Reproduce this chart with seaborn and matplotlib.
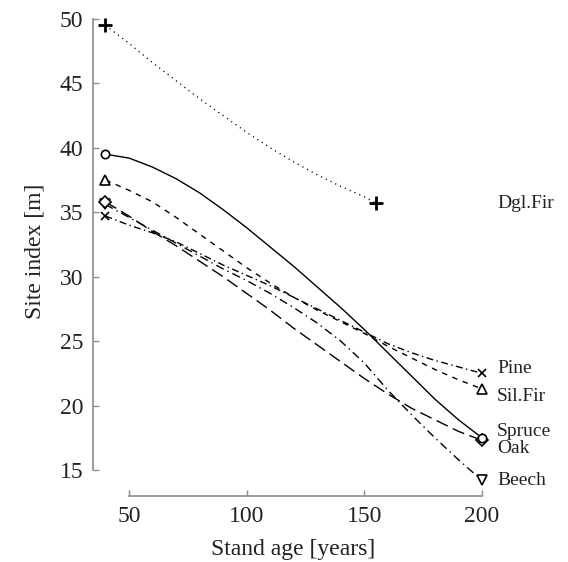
import pandas as pd
import seaborn as sns
import matplotlib.pyplot as plt

# -----------------------------
# Data
# -----------------------------
ages = [40, 50, 60, 70, 80, 90, 100, 110, 120, 130, 140, 150, 160, 170, 180, 190, 200]
ages_dgl = [40, 50, 60, 70, 80, 90, 100, 110, 120, 130, 140, 150, 155]

dgl_fir = [49.5, 48.1, 46.6, 45.2, 43.8, 42.5, 41.2, 40.0, 38.9, 37.9, 37.0, 36.2, 35.7]
spruce = [39.5, 39.2, 38.5, 37.6, 36.5, 35.2, 33.8, 32.3, 30.8, 29.2, 27.6, 25.9, 24.1, 22.3, 20.5, 18.9, 17.5]
sil_fir = [37.5, 36.7, 35.8, 34.6, 33.3, 32.0, 30.7, 29.5, 28.4, 27.4, 26.5, 25.6, 24.6, 23.7, 22.8, 22.0, 21.3]
pine = [34.7, 34.0, 33.4, 32.7, 31.8, 30.9, 30.1, 29.3, 28.4, 27.5, 26.6, 25.7, 24.8, 24.1, 23.5, 23.0, 22.5]
oak = [35.8, 34.7, 33.5, 32.4, 31.2, 30.0, 28.7, 27.4, 26.0, 24.7, 23.4, 22.1, 20.9, 19.8, 18.9, 18.0, 17.3]
beech = [35.6, 34.6, 33.6, 32.6, 31.6, 30.6, 29.7, 28.7, 27.6, 26.4, 25.0, 23.3, 21.2, 19.3, 17.5, 15.8, 14.2]

species = ['Dgl.Fir', 'Spruce', 'Sil.Fir', 'Pine', 'Oak', 'Beech']
label_y = {'Dgl.Fir': 35.7, 'Pine': 22.9, 'Sil.Fir': 20.7,
           'Spruce': 17.95, 'Oak': 16.7, 'Beech': 14.2}

rows = []
for name, xs, ys in [('Dgl.Fir', ages_dgl, dgl_fir), ('Spruce', ages, spruce),
                     ('Sil.Fir', ages, sil_fir), ('Pine', ages, pine),
                     ('Oak', ages, oak), ('Beech', ages, beech)]:
    for a, v in zip(xs, ys):
        rows.append({'Species': name, 'Age': a, 'SiteIndex': v})
df = pd.DataFrame(rows)

# line + marker style per species
styles = {
    'Dgl.Fir': dict(linestyle=(0, (0.8, 3.0)), marker='+', ms=10),
    'Spruce': dict(linestyle='-', marker='o', ms=6),
    'Sil.Fir': dict(linestyle=(0, (4, 4)), marker='^', ms=7),
    'Pine': dict(linestyle=(0, (5, 2.5, 1, 2.5)), marker='x', ms=6),
    'Oak': dict(linestyle=(0, (9, 4)), marker='D', ms=6),
    'Beech': dict(linestyle=(0, (6, 3, 1, 3)), marker='v', ms=7),
}

# -----------------------------
# Styling
# -----------------------------
sns.set_style("white")
plt.rcParams['font.family'] = ['Liberation Serif', 'DejaVu Serif']

fig = plt.figure(figsize=(5.68, 5.62), dpi=100)
ax = fig.add_axes([0.1637, 0.1178, 0.7055, 0.8716])

for name in ['Beech', 'Oak', 'Pine', 'Sil.Fir', 'Spruce', 'Dgl.Fir']:
    sub = df[df['Species'] == name]
    st = styles[name]
    sns.lineplot(data=sub, x='Age', y='SiteIndex', ax=ax, color='black',
                 linewidth=1.0, linestyle=st['linestyle'], legend=False)
    ends = sub.iloc[[0, -1]]
    if name == 'Dgl.Fir':
        ax.plot(ends['Age'], ends['SiteIndex'], linestyle='none', marker='+',
                ms=st['ms'], mew=2.0, color='black', zorder=5)
    else:
        ax.plot(ends['Age'], ends['SiteIndex'], linestyle='none', marker=st['marker'],
                ms=st['ms'], mfc='white', mec='black', mew=1.2, zorder=5)
    ax.text(206.4, label_y[name], name, fontsize=14, va='center', ha='left',
            color='#222222', clip_on=False)

ax.set_xlim(34.7, 205)
ax.set_ylim(13, 51)
ax.set_xticks([50, 100, 150, 200])
ax.set_yticks([15, 20, 25, 30, 35, 40, 45, 50])

for s in ['top', 'right']:
    ax.spines[s].set_visible(False)
ax.spines['left'].set_bounds(15, 50)
ax.spines['bottom'].set_bounds(50, 200)
for s in ['left', 'bottom']:
    ax.spines[s].set_color('#8c8c8c')
    ax.spines[s].set_linewidth(1.2)

ax.tick_params(bottom=True, left=True, direction='in', length=4, width=1.0,
               color='#8c8c8c', labelsize=17, labelcolor='#222222', pad=7)
ax.set_xlabel('Stand age [years]', fontsize=17, color='#222222', labelpad=9)
ax.set_ylabel('Site index [m]', fontsize=17, color='#222222', labelpad=10)
ax.grid(False)

fig.savefig('out.png', dpi=100)
plt.close(fig)
